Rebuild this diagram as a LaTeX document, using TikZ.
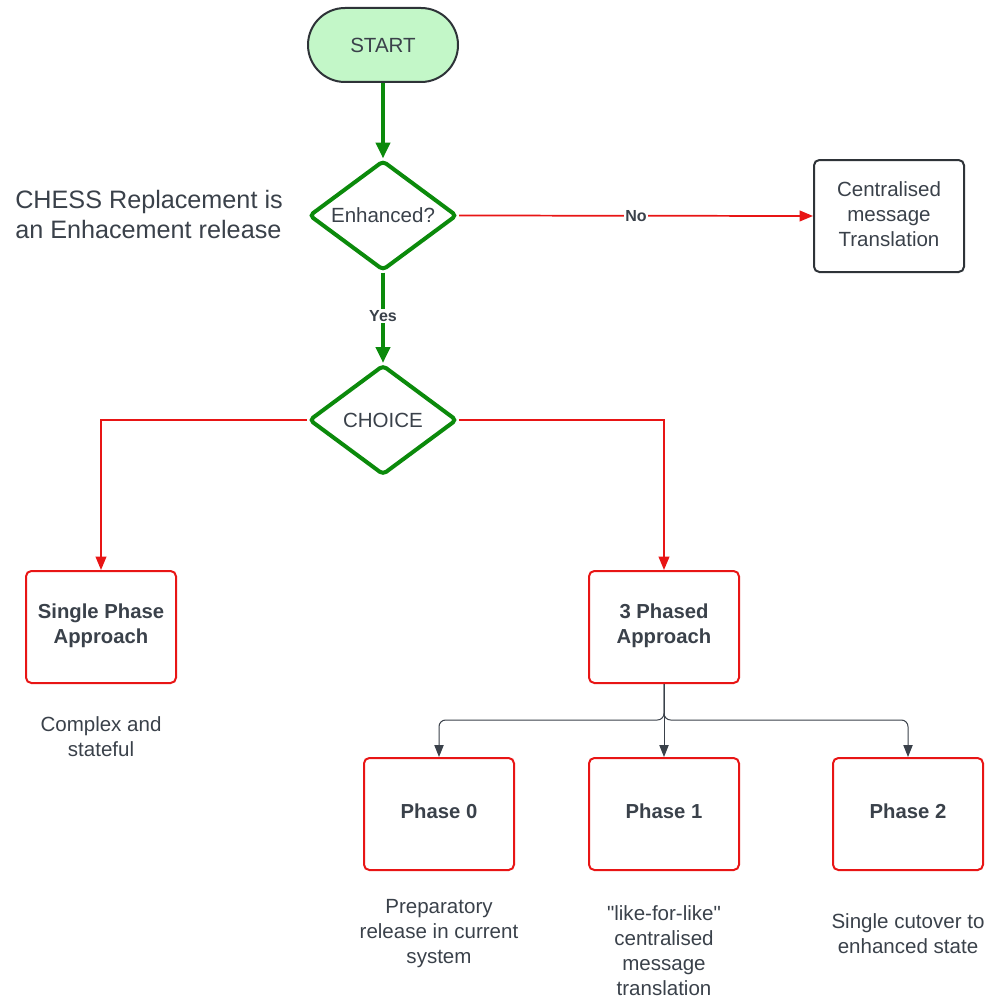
\documentclass[tikz,border=0pt]{standalone}
\usepackage{fontspec}
\setmainfont{Liberation Sans}
\usetikzlibrary{shapes.geometric,arrows.meta}
\definecolor{txtgray}{HTML}{3A414A}
\definecolor{boxgray}{HTML}{2E3338}
\definecolor{flowgreen}{HTML}{0B8A0B}
\definecolor{startfill}{HTML}{C3F7C8}
\definecolor{flowred}{HTML}{E81515}
\newcommand{\straightdq}{\XeTeXglyph\XeTeXglyphindex "quotedbl"\relax}
\tikzset{
  basetext/.style={text=txtgray,font=\fontsize{15.4}{18.75}\selectfont,align=center},
  startbox/.style={basetext,draw=boxgray,fill=startfill,line width=1.5pt,rounded corners=27.75pt,minimum width=112.5pt,minimum height=55.5pt,inner sep=0pt},
  decision/.style={basetext,diamond,draw=flowgreen,line width=3pt,rounded corners=3pt,minimum width=111pt,minimum height=82.5pt,aspect=1.35,inner sep=0pt},
  graybox/.style={basetext,draw=boxgray,line width=1.5pt,rounded corners=4pt,minimum width=112.5pt,minimum height=84pt,inner sep=0pt,text depth=3pt},
  redbox/.style={basetext,font=\fontsize{15.2}{18.75}\selectfont\bfseries,draw=flowred,line width=1.5pt,rounded corners=4pt,minimum width=112.5pt,minimum height=84pt,inner sep=0pt,text depth=5pt},
  note/.style={basetext,inner sep=0pt},
  greenarrow/.style={draw=flowgreen,line width=3pt,-{Triangle[length=12pt,width=10.5pt]}},
  redarrow/.style={draw=flowred,line width=1.3pt,-{Triangle[length=10pt,width=8pt]}},
  grayarrow/.style={draw=txtgray,line width=0.75pt,rounded corners=5pt,-{Triangle[length=9pt,width=7pt]}},
  edgelabel/.style={text=txtgray,font=\fontsize{12}{14}\selectfont\bfseries,fill=white,inner sep=1pt}
}
\begin{document}
\begin{tikzpicture}[x=0.75pt,y=-0.75pt]
\useasboundingbox (0,0) rectangle (988,999);
\node[startbox] (start) at (383,45) {START};
\node[decision] (enh) at (383,215.5) {Enhanced?};
\node[decision] (choice) at (383,420) {CHOICE};
\node[graybox] (central) at (889,216) {Centralised\\message\\Translation};
\node[note,anchor=west,align=left,font=\fontsize{18.9}{22.5}\selectfont] (chess) at (15,214) {CHESS Replacement is\\an Enhacement release};
\node[redbox] (single) at (101,627) {Single Phase\\Approach};
\node[redbox] (three) at (664,627) {3 Phased\\Approach};
\node[redbox] (ph0) at (439,814) {Phase 0};
\node[redbox] (ph1) at (664,814) {Phase 1};
\node[redbox] (ph2) at (908,814) {Phase 2};
\node[note] (n1) at (101,737) {Complex and\\stateful};
\node[note] (n2) at (439,934) {Preparatory\\release in current\\system};
\node[note] (n3) at (664,951) {\straightdq like-for-like\straightdq\\centralised\\message\\translation};
\node[note] (n4) at (908,934) {Single cutover to\\enhanced state};
\draw[greenarrow] (start.south) -- (enh.north);
\draw[greenarrow] (enh.south) -- node[edgelabel,pos=0.48]{Yes} (choice.north);
\draw[redarrow] (enh.east) -- node[edgelabel,pos=0.5]{No} (central.west);
\draw[redarrow] (choice.west) -| (single.north);
\draw[redarrow] (choice.east) -| (three.north);
\coordinate (split) at (664,720);
\draw[grayarrow] (three.south) -- (split) -| (ph0.north);
\draw[grayarrow] (three.south) -- (ph1.north);
\draw[grayarrow] (three.south) -- (split) -| (ph2.north);
\end{tikzpicture}
\end{document}
